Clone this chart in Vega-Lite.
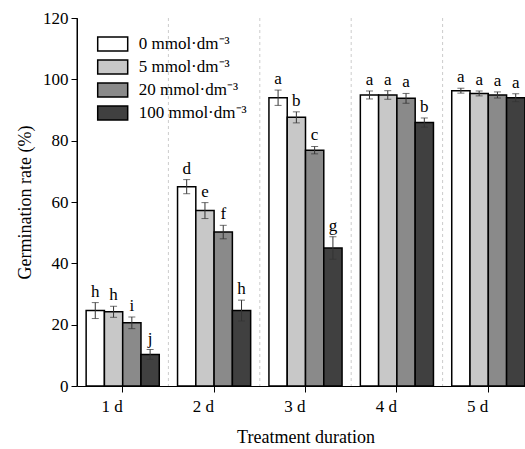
{
  "$schema": "https://vega.github.io/schema/vega-lite/v6.json",
  "width": 448,
  "height": 368,
  "autosize": {"type": "none"},
  "padding": {"left": 77, "top": 18, "right": 0, "bottom": 63},
  "background": "white",
  "config": {
    "view": {"stroke": null},
    "font": "Liberation Serif",
    "axis": {
      "domain": true,
      "domainColor": "black",
      "tickColor": "black",
      "labelColor": "black",
      "titleColor": "black",
      "labelFont": "Liberation Serif",
      "titleFont": "Liberation Serif",
      "labelFontSize": 17,
      "titleFontSize": 18,
      "titleFontWeight": "normal",
      "domainWidth": 1,
      "tickWidth": 1,
      "grid": false,
      "zindex": 1
    },
    "legend": {
      "labelFont": "Liberation Serif",
      "labelFontSize": 17,
      "labelColor": "black"
    }
  },
  "data": {
    "values": [
      {"day": "1 d", "conc": "0 mmol·dm⁻³", "rate": 24.6, "lo": 22.0, "hi": 27.2, "letter": "h"},
      {"day": "1 d", "conc": "5 mmol·dm⁻³", "rate": 24.2, "lo": 22.4, "hi": 26.0, "letter": "h"},
      {"day": "1 d", "conc": "20 mmol·dm⁻³", "rate": 20.6, "lo": 18.7, "hi": 22.5, "letter": "i"},
      {"day": "1 d", "conc": "100 mmol·dm⁻³", "rate": 10.3, "lo": 8.7, "hi": 11.9, "letter": "j"},
      {"day": "2 d", "conc": "0 mmol·dm⁻³", "rate": 65.0, "lo": 62.7, "hi": 67.3, "letter": "d"},
      {"day": "2 d", "conc": "5 mmol·dm⁻³", "rate": 57.2, "lo": 54.6, "hi": 59.8, "letter": "e"},
      {"day": "2 d", "conc": "20 mmol·dm⁻³", "rate": 50.2, "lo": 48.0, "hi": 52.4, "letter": "f"},
      {"day": "2 d", "conc": "100 mmol·dm⁻³", "rate": 24.6, "lo": 21.2, "hi": 28.0, "letter": "h"},
      {"day": "3 d", "conc": "0 mmol·dm⁻³", "rate": 94.0, "lo": 91.5, "hi": 96.5, "letter": "a"},
      {"day": "3 d", "conc": "5 mmol·dm⁻³", "rate": 87.6, "lo": 85.8, "hi": 89.4, "letter": "b"},
      {"day": "3 d", "conc": "20 mmol·dm⁻³", "rate": 76.9, "lo": 75.7, "hi": 78.1, "letter": "c"},
      {"day": "3 d", "conc": "100 mmol·dm⁻³", "rate": 45.0, "lo": 41.3, "hi": 48.7, "letter": "g"},
      {"day": "4 d", "conc": "0 mmol·dm⁻³", "rate": 94.9, "lo": 93.6, "hi": 96.2, "letter": "a"},
      {"day": "4 d", "conc": "5 mmol·dm⁻³", "rate": 94.9, "lo": 93.5, "hi": 96.3, "letter": "a"},
      {"day": "4 d", "conc": "20 mmol·dm⁻³", "rate": 93.8, "lo": 92.2, "hi": 95.4, "letter": "a"},
      {"day": "4 d", "conc": "100 mmol·dm⁻³", "rate": 85.9, "lo": 84.4, "hi": 87.4, "letter": "b"},
      {"day": "5 d", "conc": "0 mmol·dm⁻³", "rate": 96.3, "lo": 95.5, "hi": 97.1, "letter": "a"},
      {"day": "5 d", "conc": "5 mmol·dm⁻³", "rate": 95.4, "lo": 94.6, "hi": 96.2, "letter": "a"},
      {"day": "5 d", "conc": "20 mmol·dm⁻³", "rate": 94.9, "lo": 93.9, "hi": 95.9, "letter": "a"},
      {"day": "5 d", "conc": "100 mmol·dm⁻³", "rate": 94.0, "lo": 92.7, "hi": 95.3, "letter": "a"}
    ]
  },
  "layer": [
    {
      "transform": [{"filter": "datum.conc == '0 mmol·dm⁻³'"}],
      "mark": {"type": "rule", "strokeWidth": 1},
      "encoding": {
        "x": {"field": "day", "type": "nominal", "sort": ["1 d", "2 d", "3 d", "4 d", "5 d"], "bandPosition": -0.125},
        "color": {"condition": {"test": "datum.day == '1 d'", "value": "black"}, "value": "#cccccc"},
        "strokeDash": {"condition": {"test": "datum.day == '1 d'", "value": [1, 0]}, "value": [3, 3]}
      }
    },
    {
      "mark": {"type": "bar", "stroke": "black", "strokeWidth": 1.5},
      "encoding": {
        "x": {
          "field": "day", "type": "nominal", "sort": ["1 d", "2 d", "3 d", "4 d", "5 d"],
          "scale": {"range": [0, 457], "paddingInner": 0.2, "paddingOuter": 0.1},
          "axis": {"title": "Treatment duration", "labelAngle": 0, "tickSize": 6, "labelPadding": 14, "titlePadding": 14}
        },
        "xOffset": {
          "field": "conc", "type": "nominal",
          "sort": ["0 mmol·dm⁻³", "5 mmol·dm⁻³", "20 mmol·dm⁻³", "100 mmol·dm⁻³"],
          "scale": {"paddingInner": 0, "paddingOuter": 0}
        },
        "y": {
          "field": "rate", "type": "quantitative",
          "scale": {"domain": [0, 120], "nice": false},
          "axis": {
            "title": "Germination rate (%)",
            "domain": true,
            "values": [0, 10, 20, 30, 40, 50, 60, 70, 80, 90, 100, 110, 120],
            "labelExpr": "datum.value % 20 == 0 ? datum.label : ''",
            "tickSize": {"condition": {"test": "datum.value % 20 == 0", "value": 6}, "value": 4},
            "labelPadding": 3,
            "titlePadding": 8
          }
        },
        "fill": {
          "field": "conc", "type": "nominal",
          "scale": {
            "domain": ["0 mmol·dm⁻³", "5 mmol·dm⁻³", "20 mmol·dm⁻³", "100 mmol·dm⁻³"],
            "range": ["#ffffff", "#c8c8c8", "#8a8a8a", "#404040"]
          },
          "legend": {
            "title": null,
            "orient": "none",
            "legendX": 22.7,
            "legendY": 13,
            "padding": 0,
            "symbolType": "M-1.25,-0.583H1.25V0.583H-1.25Z",
            "symbolSize": 576,
            "symbolStrokeColor": "black",
            "symbolStrokeWidth": 1.5,
            "symbolOpacity": 1,
            "labelOffset": 13,
            "rowPadding": 0
          }
        }
      }
    },
    {
      "mark": {"type": "rule", "color": "#333333", "strokeWidth": 1},
      "encoding": {
        "x": {"field": "day", "type": "nominal", "sort": ["1 d", "2 d", "3 d", "4 d", "5 d"]},
        "xOffset": {"field": "conc", "type": "nominal", "sort": ["0 mmol·dm⁻³", "5 mmol·dm⁻³", "20 mmol·dm⁻³", "100 mmol·dm⁻³"]},
        "y": {"field": "lo", "type": "quantitative"},
        "y2": {"field": "hi"}
      }
    },
    {
      "mark": {"type": "tick", "color": "#333333", "thickness": 1, "size": 7},
      "encoding": {
        "x": {"field": "day", "type": "nominal", "sort": ["1 d", "2 d", "3 d", "4 d", "5 d"]},
        "xOffset": {"field": "conc", "type": "nominal", "sort": ["0 mmol·dm⁻³", "5 mmol·dm⁻³", "20 mmol·dm⁻³", "100 mmol·dm⁻³"]},
        "y": {"field": "lo", "type": "quantitative"}
      }
    },
    {
      "mark": {"type": "tick", "color": "#333333", "thickness": 1, "size": 7},
      "encoding": {
        "x": {"field": "day", "type": "nominal", "sort": ["1 d", "2 d", "3 d", "4 d", "5 d"]},
        "xOffset": {"field": "conc", "type": "nominal", "sort": ["0 mmol·dm⁻³", "5 mmol·dm⁻³", "20 mmol·dm⁻³", "100 mmol·dm⁻³"]},
        "y": {"field": "hi", "type": "quantitative"}
      }
    },
    {
      "mark": {"type": "text", "font": "Liberation Serif", "fontSize": 17, "color": "black", "baseline": "alphabetic", "dy": -6},
      "encoding": {
        "x": {"field": "day", "type": "nominal", "sort": ["1 d", "2 d", "3 d", "4 d", "5 d"]},
        "xOffset": {"field": "conc", "type": "nominal", "sort": ["0 mmol·dm⁻³", "5 mmol·dm⁻³", "20 mmol·dm⁻³", "100 mmol·dm⁻³"]},
        "y": {"field": "hi", "type": "quantitative"},
        "text": {"field": "letter"}
      }
    }
  ]
}
